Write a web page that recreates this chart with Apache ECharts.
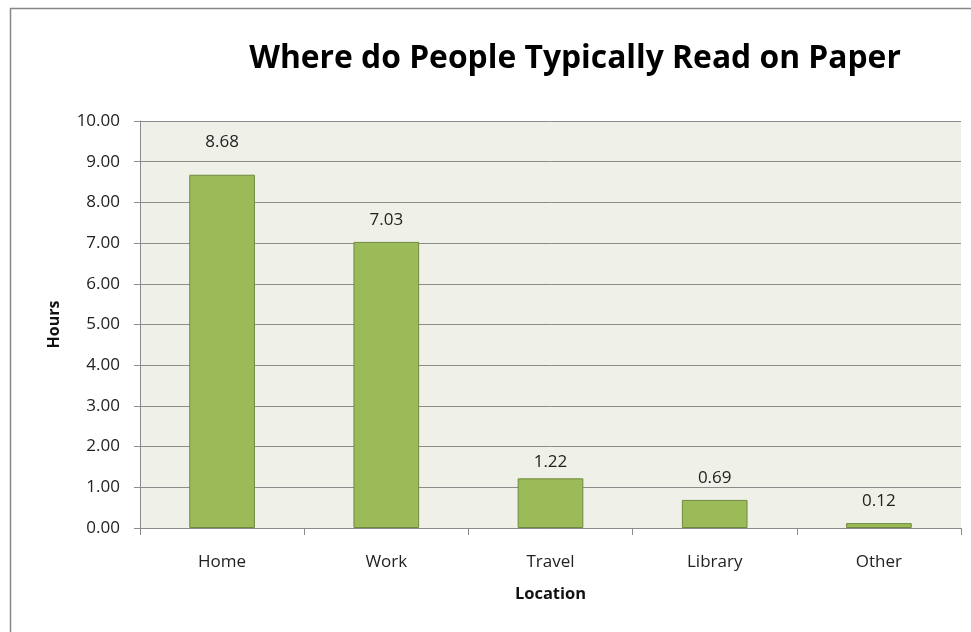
<!DOCTYPE html>
<html>
<head>
<meta charset="utf-8">
<script src="https://cdn.jsdelivr.net/npm/echarts@6/dist/echarts.min.js"></script>
<style>
  html, body { margin: 0; padding: 0; background: #ffffff; }
  #chart { width: 971px; height: 632px; }
</style>
</head>
<body>
<div id="chart"></div>
<script>
// Reading locations and average hours spent reading on paper
const locations = ['Home', 'Work', 'Travel', 'Library', 'Other'];
const hours = [8.68, 7.03, 1.22, 0.69, 0.12];
const yTicks = [0, 1, 2, 3, 4, 5, 6, 7, 8, 9, 10];

// Per-bar gap between bar top and its value label
const labelGap = [24, 13, 8, 13, 13];

const FONT = '"Open Sans", Lato, sans-serif';

const chart = echarts.init(document.getElementById('chart'), null, { renderer: 'canvas' });

chart.setOption({
  animation: false,
  backgroundColor: '#ffffff',
  title: {
    text: 'Where do People Typically Read on Paper',
    left: 570,
    top: 38,
    textAlign: 'center',
    textStyle: { fontFamily: FONT, fontSize: 31.8, fontWeight: 'bold', color: '#000000' }
  },
  graphic: [{
    type: 'rect',
    shape: { x: 10.5, y: 8.5, width: 980, height: 640 },
    style: { fill: 'none', stroke: '#868686', lineWidth: 1.5 },
    silent: true
  }],
  grid: {
    left: 140, right: 10, top: 121, bottom: 104,
    show: true, backgroundColor: '#eff1e9', borderWidth: 0
  },
  xAxis: {
    type: 'category',
    data: locations,
    name: 'Location',
    nameLocation: 'middle',
    nameGap: 58,
    nameTextStyle: { fontFamily: FONT, fontSize: 16.5, fontWeight: 'bold', color: '#111' },
    axisLine: { show: true, lineStyle: { color: '#8c8c8c', width: 1 } },
    axisTick: { show: true, alignWithLabel: false, length: 7, lineStyle: { color: '#8c8c8c' } },
    axisLabel: { fontFamily: FONT, fontSize: 17, color: '#222', margin: 26 },
    splitLine: { show: false }
  },
  yAxis: {
    type: 'value',
    min: yTicks[0],
    max: yTicks[yTicks.length - 1],
    interval: 1,
    name: 'Hours',
    nameLocation: 'middle',
    nameGap: 78,
    nameRotate: 90,
    nameTextStyle: { fontFamily: FONT, fontSize: 16, fontWeight: 'bold', color: '#111' },
    axisLine: { show: true, lineStyle: { color: '#8c8c8c', width: 1 } },
    axisTick: { show: true, length: 6, lineStyle: { color: '#8c8c8c' } },
    axisLabel: {
      fontFamily: FONT, fontSize: 17, color: '#222', margin: 20,
      formatter: v => v.toFixed(2)
    },
    splitLine: { show: true, lineStyle: { color: '#8c8c8c', width: 1 } }
  },
  series: [{
    type: 'bar',
    barWidth: '40%',
    data: hours.map((v, i) => ({
      value: v,
      label: { distance: labelGap[i] }
    })),
    itemStyle: { color: '#9bbb59', borderColor: '#71893f', borderWidth: 1 },
    label: {
      show: true,
      position: 'top',
      fontFamily: FONT,
      fontSize: 17,
      color: '#222',
      formatter: p => p.value.toFixed(2)
    }
  }]
});
</script>
</body>
</html>
